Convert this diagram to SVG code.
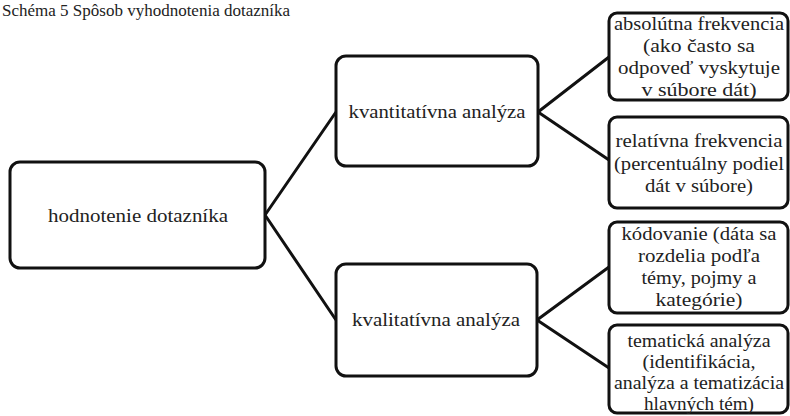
<svg xmlns="http://www.w3.org/2000/svg" width="790" height="416" viewBox="0 0 790 416">
<style>
.box{fill:#fff;stroke:#111;stroke-width:3}
.c{stroke:#111;stroke-width:3;fill:none}
text{font-family:'Liberation Serif','DejaVu Serif',serif;fill:#222;font-size:18px;text-anchor:middle}
</style>
<rect width="790" height="416" fill="#fff"/>
<text x="2" y="16" style="text-anchor:start;font-size:17px">Schéma 5 Spôsob vyhodnotenia dotazníka</text>
<g id="connectors">
<path class="c" d="M265 215 L336 112 M265 215 L336 320 M538 112 L609 57 M538 112 L609 160 M537 320 L609 267 M537 320 L609 368"/>
</g>
<g id="root"><rect class="box" x="10" y="162" width="255" height="106" rx="10"/><text x="138" y="222" textLength="180" lengthAdjust="spacingAndGlyphs">hodnotenie dotazníka</text></g>
<g id="kvant"><rect class="box" x="336" y="56" width="202" height="110" rx="10"/><text x="437" y="118" textLength="177" lengthAdjust="spacingAndGlyphs">kvantitatívna analýza</text></g>
<g id="kval"><rect class="box" x="336" y="264" width="201" height="112" rx="10"/><text x="436" y="326" textLength="168" lengthAdjust="spacingAndGlyphs">kvalitatívna analýza</text></g>
<g id="abs"><rect class="box" x="609" y="13" width="179" height="87" rx="8"/>
<text x="699" y="30" textLength="170" lengthAdjust="spacingAndGlyphs">absolútna frekvencia</text>
<text x="699" y="52" textLength="112" lengthAdjust="spacingAndGlyphs">(ako často sa</text>
<text x="699" y="74" textLength="162" lengthAdjust="spacingAndGlyphs">odpoveď vyskytuje</text>
<text x="699" y="96" textLength="115" lengthAdjust="spacingAndGlyphs">v súbore dát)</text></g>
<g id="rel"><rect class="box" x="609" y="117" width="179" height="91" rx="8"/>
<text x="699" y="147" textLength="167" lengthAdjust="spacingAndGlyphs">relatívna frekvencia</text>
<text x="699" y="170" textLength="170" lengthAdjust="spacingAndGlyphs">(percentuálny podiel</text>
<text x="699" y="192" textLength="108" lengthAdjust="spacingAndGlyphs">dát v súbore)</text></g>
<g id="kod"><rect class="box" x="609" y="222" width="179" height="91" rx="8"/>
<text x="699" y="240" textLength="155" lengthAdjust="spacingAndGlyphs">kódovanie (dáta sa</text>
<text x="699" y="262" textLength="122" lengthAdjust="spacingAndGlyphs">rozdelia podľa</text>
<text x="699" y="284" textLength="115" lengthAdjust="spacingAndGlyphs">témy, pojmy a</text>
<text x="699" y="306" textLength="87" lengthAdjust="spacingAndGlyphs">kategórie)</text></g>
<g id="tem"><rect class="box" x="609" y="325" width="179" height="88" rx="8"/>
<text x="699" y="347" textLength="143" lengthAdjust="spacingAndGlyphs">tematická analýza</text>
<text x="699" y="368" textLength="113" lengthAdjust="spacingAndGlyphs">(identifikácia,</text>
<text x="699" y="389" textLength="170" lengthAdjust="spacingAndGlyphs">analýza a tematizácia</text>
<text x="699" y="410" textLength="110" lengthAdjust="spacingAndGlyphs">hlavných tém)</text></g>
</svg>
